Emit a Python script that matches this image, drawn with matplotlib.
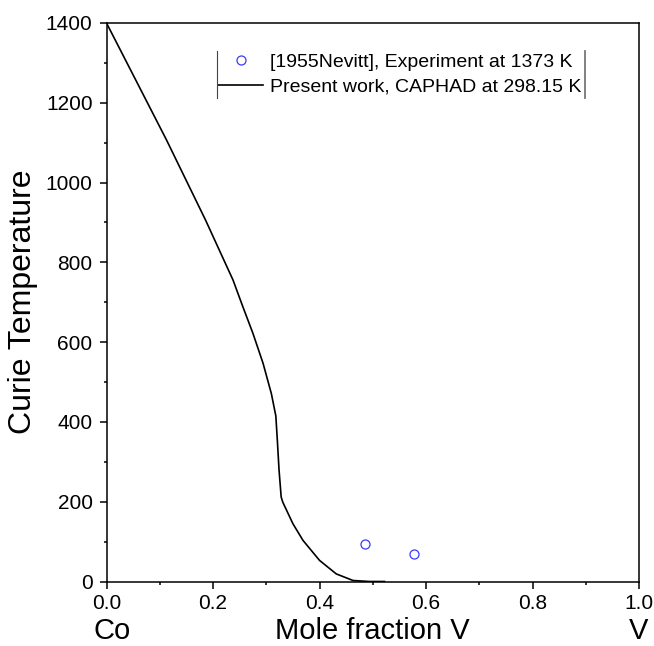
import matplotlib
matplotlib.use("Agg")
import matplotlib.pyplot as plt
import matplotlib.transforms as mtransforms
from matplotlib.lines import Line2D

plt.rcParams["font.family"] = ["Liberation Sans", "DejaVu Sans"]

# Calculated Curie temperature (CAPHAD) vs mole fraction V
x_calc = [0.0, 0.1126, 0.186, 0.2375, 0.256, 0.275, 0.294, 0.3096, 0.318,
          0.321, 0.324, 0.328, 0.331, 0.350, 0.369, 0.400, 0.4315, 0.463,
          0.494, 0.522]
t_calc = [1400, 1107, 906, 756, 689, 622, 547, 471, 415,
          350, 280, 212, 199, 145, 103, 53, 19, 2.5,
          0, 0]

# Experimental points [1955Nevitt]
x_exp = [0.485, 0.578]
t_exp = [95, 70]

label_exp = "[1955Nevitt], Experiment at 1373 K"
label_calc = "Present work, CAPHAD at 298.15 K"

fig = plt.figure(figsize=(6.54, 6.46), dpi=100)
ax = fig.add_axes([106.5 / 654, 1 - 581.5 / 646, 532.5 / 654, 558.5 / 646])

ax.plot(x_exp, t_exp, linestyle="none", marker="o", markersize=6.5,
        markerfacecolor="none", markeredgecolor="#3a3aff",
        markeredgewidth=0.9, label=label_exp)
ax.plot(x_calc, t_calc, color="black", linewidth=1.2, label=label_calc)

ax.set_xlim(0, 1.0)
ax.set_ylim(0, 1400)
ax.set_xticks([0.0, 0.2, 0.4, 0.6, 0.8, 1.0])
ax.set_xticks([0.1, 0.3, 0.5, 0.7, 0.9], minor=True)
ax.set_yticks(range(0, 1401, 200))
ax.set_yticks(range(100, 1400, 200), minor=True)
ax.set_xticklabels(["0.0", "0.2", "0.4", "0.6", "0.8", "1.0"])

for s in ax.spines.values():
    s.set_linewidth(1.1)
ax.tick_params(which="both", direction="out", top=False, right=False,
               width=1.1)
ax.tick_params(which="major", length=5, labelsize=15, pad=5)
ax.tick_params(which="minor", length=2.5)
ax.tick_params(axis="x", which="major", pad=4)

ax.set_ylabel("Curie Temperature", fontsize=23)
ax.yaxis.set_label_coords(-0.157, 0.5)
ax.yaxis.label.set_va("center")

# bottom row: Co ... Mole fraction V ... V
lab_y = -0.103
ax.set_xlabel("Mole fraction V", fontsize=21)
ax.xaxis.set_label_coords(0.5, lab_y)
ax.xaxis.label.set_va("baseline")

trans = mtransforms.blended_transform_factory(ax.transData, ax.transAxes)
ax.text(-0.025, lab_y, "Co", transform=trans, fontsize=21,
        ha="left", va="baseline", clip_on=False)
ax.text(1.0, lab_y, "V", transform=trans, fontsize=21,
        ha="center", va="baseline", clip_on=False)

leg = ax.legend(loc="center left", bbox_to_anchor=(0.21, 0.908),
                frameon=False, fontsize=14, borderpad=0, borderaxespad=0,
                handlelength=2.3, handletextpad=0.35, labelspacing=0.35)

# Origin-style legend: only vertical bars at left and right edges
fig.canvas.draw()
bb = leg.get_window_extent().transformed(fig.transFigure.inverted())
y0, y1 = bb.y0 - 0.004, bb.y1 + 0.004
fig.add_artist(Line2D([bb.x0 - 0.002] * 2, [y0, y1], color="#444444",
                      linewidth=0.8, transform=fig.transFigure))
fig.add_artist(Line2D([bb.x1 + 0.006] * 2, [y0, y1], color="#777777",
                      linewidth=1.3, transform=fig.transFigure))

fig.savefig("out.png", dpi=100)
